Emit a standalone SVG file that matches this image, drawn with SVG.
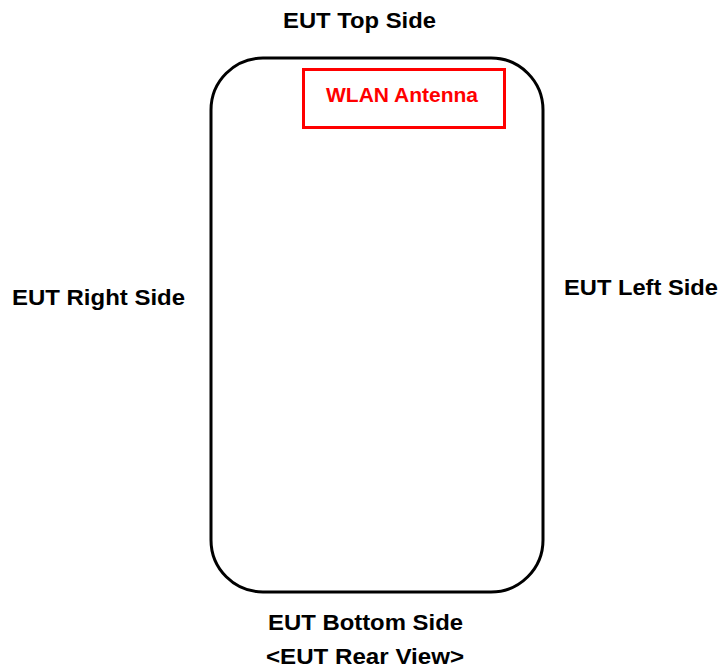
<svg xmlns="http://www.w3.org/2000/svg" width="721" height="668" viewBox="0 0 721 668">
<style>
text{font-family:"Liberation Sans",Arial,sans-serif;font-weight:bold;font-size:22px;fill:#000}
.red{fill:#ff0000;font-size:20px}
</style>
<rect width="721" height="668" fill="#fff"/>
<g id="eut">
<rect x="211" y="58" width="332" height="534" rx="52" ry="52" fill="none" stroke="#000" stroke-width="3"/>
</g>
<g id="antenna">
<rect x="303.5" y="69.5" width="201" height="58" fill="none" stroke="#ff0000" stroke-width="3"/>
<text class="red" x="326" y="102" textLength="152" lengthAdjust="spacingAndGlyphs">WLAN Antenna</text>
</g>
<g id="labels">
<text x="283" y="28" textLength="153" lengthAdjust="spacingAndGlyphs">EUT Top Side</text>
<text x="12" y="305" textLength="173" lengthAdjust="spacingAndGlyphs">EUT Right Side</text>
<text x="564" y="295" textLength="154" lengthAdjust="spacingAndGlyphs">EUT Left Side</text>
<text x="268" y="630" textLength="195" lengthAdjust="spacingAndGlyphs">EUT Bottom Side</text>
<text x="266" y="664" textLength="198" lengthAdjust="spacingAndGlyphs">&lt;EUT Rear View&gt;</text>
</g>
</svg>
